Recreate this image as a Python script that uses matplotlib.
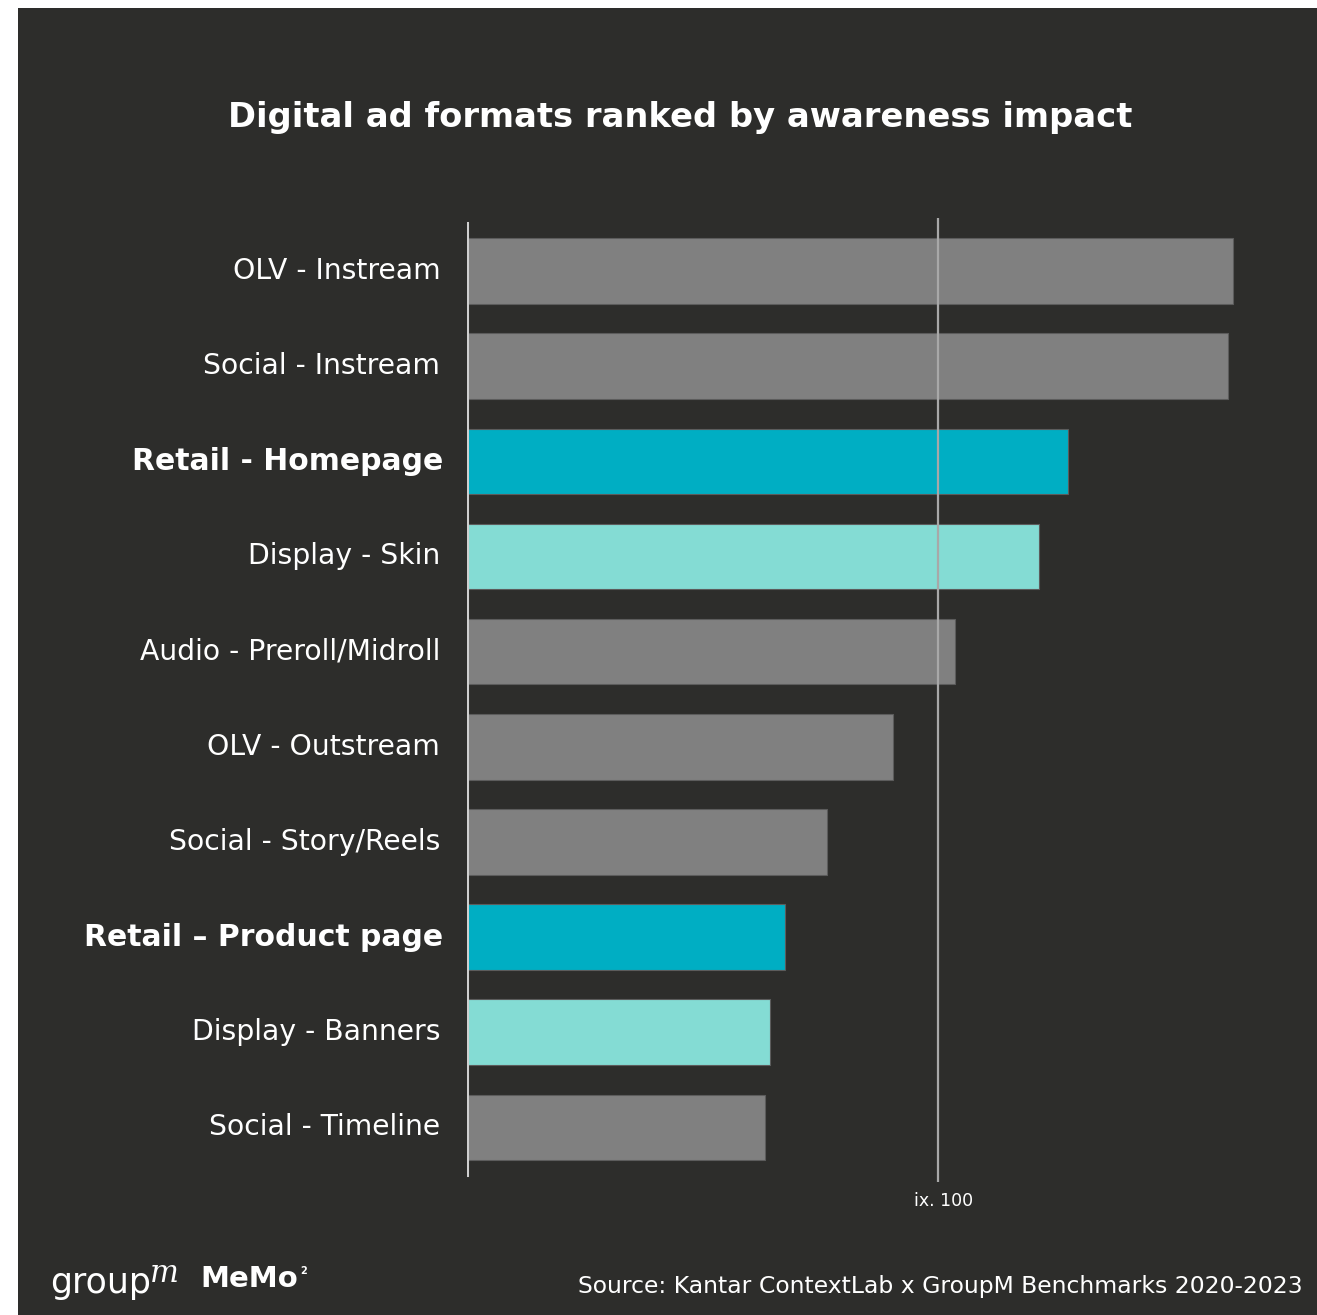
import matplotlib
matplotlib.use('Agg')
import matplotlib.pyplot as plt
from matplotlib.patches import Rectangle

# ---- data ----
formats = ['OLV - Instream', 'Social - Instream', 'Retail - Homepage', 'Display - Skin',
           'Audio - Preroll/Midroll', 'OLV - Outstream', 'Social - Story/Reels',
           'Retail \u2013 Product page', 'Display - Banners', 'Social - Timeline']
index_values = [162.6, 161.6, 127.6, 121.4, 103.6, 90.4, 76.4, 67.5, 64.3, 63.3]
groups = ['other', 'other', 'retail', 'display', 'other', 'other', 'other',
          'retail', 'display', 'other']
benchmark = 100

COLORS = {
    'bg': '#2d2d2b',
    'other': '#808080',
    'retail': '#00aec3',
    'display': '#84dcd4',
    'text': '#ffffff',
}
FONT = 'DejaVu Sans'

W, H = 1317, 1315
fig = plt.figure(figsize=(W / 100, H / 100), dpi=100)
fig.patch.set_facecolor('white')
# dark panel (white strip on top and left like the screenshot)
fig.add_artist(Rectangle((18 / W, 0), 1, 1 - 8 / H, transform=fig.transFigure,
                         facecolor=COLORS['bg'], edgecolor='none', zorder=0))

ax = fig.add_axes([467 / W, 1 - 1182 / H, (1290 - 467) / W, (1182 - 218) / H])
ax.set_facecolor('none')
px_per_unit = 4.71
ax.set_xlim(0, (1290 - 467) / px_per_unit)
ax.set_ylim(len(formats) - 1 + 0.573, -0.557)

ypos = list(range(len(formats)))
ax.barh(ypos, index_values, height=0.69, color=[COLORS[g] for g in groups],
        edgecolor='#5c5c5c', linewidth=0.8, zorder=2)

# baseline + benchmark line
ax.axvline(0, ymin=7 / 964, ymax=959 / 964, color='#cfcfcf', linewidth=2.2, zorder=3)
ax.axvline(benchmark, ymin=0, ymax=1, color='#a8a8a8', linewidth=1.6, zorder=3)

for s in ax.spines.values():
    s.set_visible(False)
ax.set_xticks([])
ax.set_yticks([])

# category labels
for y, name, g in zip(ypos, formats, groups):
    bold = g == 'retail'
    ax.text(-5.1 if bold else -5.7, y, name, ha='right', va='center',
            color=COLORS['text'], fontsize=21.5 if bold else 20.3,
            fontweight='bold' if bold else 'normal', family=FONT)

fig.text(944 / W, 1 - 1201 / H, 'ix. 100', ha='center', va='center',
         color=COLORS['text'], fontsize=12.5, family=FONT)

fig.text(680 / W, 1 - 117 / H, 'Digital ad formats ranked by awareness impact',
         ha='center', va='center', color=COLORS['text'], fontsize=24.3,
         fontweight='bold', family=FONT)

fig.text(1303 / W, 1 - 1287 / H, 'Source: Kantar ContextLab x GroupM Benchmarks 2020-2023',
         ha='right', va='center', color=COLORS['text'], fontsize=16.9, family=FONT)

# logos
fig.text(50 / W, 1 - 1283 / H, 'group', ha='left', va='center', color=COLORS['text'],
         fontsize=25, family=FONT)
fig.text(150 / W, 1 - 1274 / H, 'm', ha='left', va='center', color=COLORS['text'],
         fontsize=22, style='italic', family='DejaVu Serif')
fig.text(200 / W, 1 - 1279 / H, 'MeMo', ha='left', va='center', color=COLORS['text'],
         fontsize=21, fontweight='bold', family=FONT)
fig.text(300 / W, 1 - 1271 / H, '2', ha='left', va='center', color=COLORS['text'],
         fontsize=7, fontweight='bold', family=FONT)

fig.savefig('out.png', dpi=100, facecolor=fig.get_facecolor())
